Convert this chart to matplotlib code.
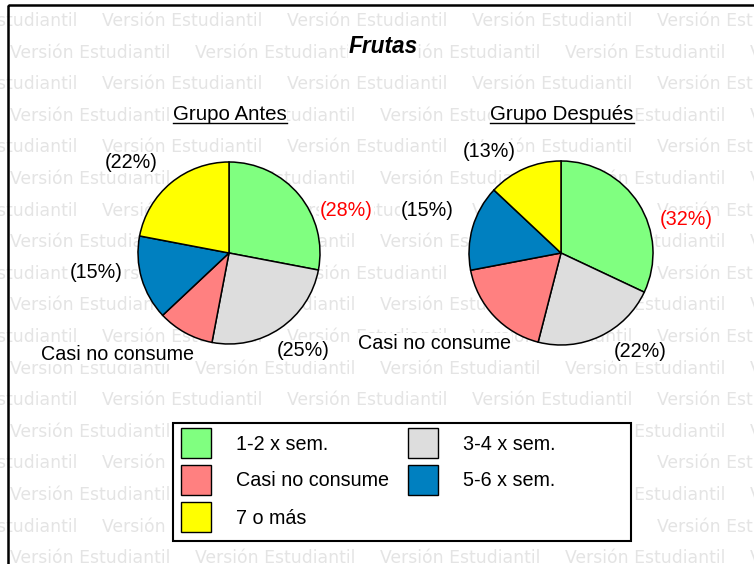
import matplotlib
matplotlib.use("Agg")
import matplotlib.pyplot as plt
from matplotlib.patches import Rectangle

# ---- data ----
categories = ["1-2 x sem.", "3-4 x sem.", "Casi no consume", "5-6 x sem.", "7 o más"]
colors = ["#80FF80", "#DDDDDD", "#FF8080", "#0080C0", "#FFFF00"]
antes = [28, 25, 10, 15, 22]
despues = [32, 22, 18, 15, 13]
title = "Frutas"
subtitles = ["Grupo Antes", "Grupo Después"]
watermark = "Versión Estudiantil"

W, H = 754, 564
fig = plt.figure(figsize=(W / 100, H / 100), dpi=100)
fig.patch.set_facecolor("white")

bg = fig.add_axes([0, 0, 1, 1])
bg.set_xlim(0, W)
bg.set_ylim(H, 0)
bg.axis("off")

# frame
frame = Rectangle((8, 5), W + 20, H + 20, fill=False, edgecolor="black", lw=1.8, zorder=5)
bg.add_patch(frame)
clip = Rectangle((9, 6), W, H, transform=bg.transData, fill=False, lw=0)
bg.add_patch(clip)

# watermark
for k in range(18):
    yb = 26 + 31.6 * k
    x0 = 102 if k % 2 == 0 else 10
    xs = [x0 - 185 + 185 * j for j in range(6)]
    for x in xs:
        t = bg.text(x, yb, watermark, fontsize=12.4, family="DejaVu Sans",
                    color="#E4E4E4", ha="left", va="baseline", zorder=0)
        t.set_clip_path(clip)

LF = "Liberation Sans"
FS = 14.2
WB = dict(facecolor="white", edgecolor="none", pad=0.5)

bg.text(383, 53, title, fontsize=16.3, family=LF, fontweight="bold", fontstyle="italic",
        ha="center", va="baseline", zorder=3, bbox=WB)

sub_texts = []
for cx, s in zip([230, 562], subtitles):
    sub_texts.append(bg.text(cx, 120, s, fontsize=14.8, family=LF, ha="center",
                             va="baseline", zorder=3, bbox=WB))

def pie_axes(cx, cy, r):
    return fig.add_axes([(cx - r) / W, 1 - (cy + r) / H, 2 * r / W, 2 * r / H])

label_pos = [
    [(1.29, 0.47), (0.82, -1.07), (-1.23, -1.11), (-1.46, -0.21), (-1.08, 0.99)],
    [(1.36, 0.36), (0.86, -1.07), (-1.37, -0.98), (-1.45, 0.46), (-0.78, 1.10)],
]
for i, (vals, (cx, cy, r)) in enumerate(zip([antes, despues], [(229, 253, 91), (561, 253, 92)])):
    ax = pie_axes(cx, cy, r)
    ax.pie(vals, colors=colors, startangle=90, counterclock=False, radius=1,
           wedgeprops=dict(edgecolor="black", linewidth=1.1))
    ax.set_xlim(-1, 1)
    ax.set_ylim(-1, 1)
    ax.set_aspect("equal")
    ax.axis("off")
    for j, v in enumerate(vals):
        lx, ly = label_pos[i][j]
        txt = categories[j] if categories[j] == "Casi no consume" else f"({v}%)"
        col = "red" if j == 0 else "black"
        ax.text(lx, ly, txt, fontsize=FS, family=LF, color=col, ha="center",
                va="center", clip_on=False, bbox=WB, zorder=4)

# legend (drawn as a box with swatches)
bg.add_patch(Rectangle((173, 423), 458, 118, facecolor="white", edgecolor="black", lw=1.5, zorder=3))
order = [0, 1, 2, 3, 4]
col_x = [181, 408]
row_y = [443, 480, 517]
for n, o in enumerate(order):
    cxl = col_x[n % 2]
    ry = row_y[n // 2]
    bg.add_patch(Rectangle((cxl, ry - 15), 30, 30, facecolor=colors[o], edgecolor="black",
                           lw=1.0, zorder=4))
    bg.text(cxl + 55, ry + 1, categories[o], fontsize=FS, family=LF, ha="left", va="center",
            zorder=4)

# underline subtitles
fig.canvas.draw()
r = fig.canvas.get_renderer()
inv = bg.transData.inverted()
for t in sub_texts:
    bb = t.get_window_extent(r)
    (x0, _), (x1, _) = inv.transform([(bb.x0, bb.y0), (bb.x1, bb.y0)])
    bg.plot([x0, x1], [123, 123], color="black", lw=1.0, zorder=4)

fig.savefig("out.png", dpi=100)
